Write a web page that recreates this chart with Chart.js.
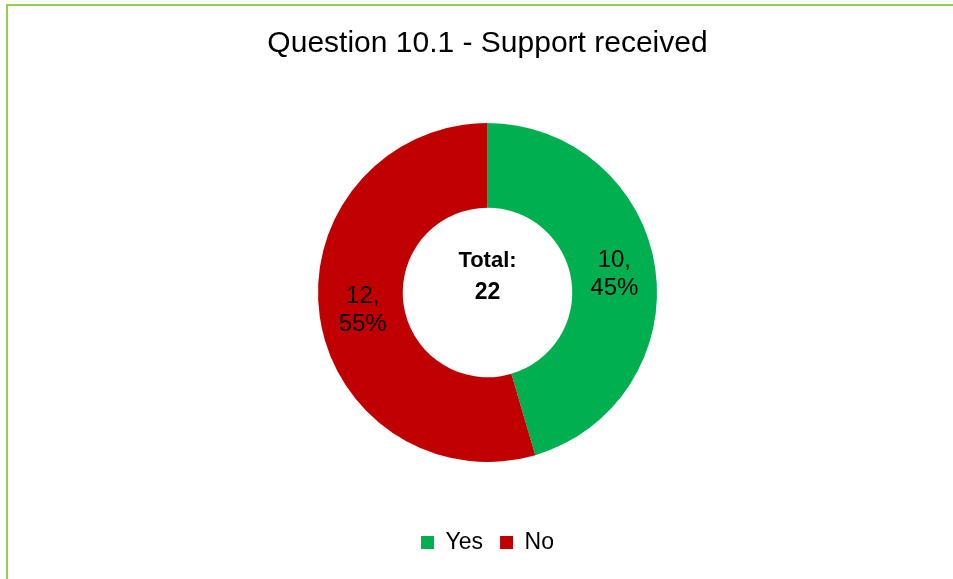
<!DOCTYPE html>
<html>
<head>
<meta charset="utf-8">
<script src="https://cdn.jsdelivr.net/npm/chart.js@4"></script>
<style>
  html, body { margin: 0; padding: 0; background: #fff; overflow: hidden; width: 953px; height: 579px; }
  #frame {
    position: absolute; left: 6px; top: 4px; width: 970px; height: 600px;
    border: 2px solid #92D050; box-sizing: border-box;
  }
  #wrap { position: absolute; left: 8px; top: 0; width: 959px; height: 579px; }
</style>
</head>
<body>
<div id="frame"></div>
<div id="wrap"><canvas id="chart"></canvas></div>
<script>
// Survey answers
const categories = ['Yes', 'No'];
const counts = [10, 12];
const sliceColors = ['#00B050', '#C00000'];
const chartTitle = 'Question 10.1 - Support received';

const fontFamily = '"Liberation Sans", Arial, sans-serif';

// Writes "count, pct%" inside each slice and the total in the hole
const sliceLabels = {
    id: 'sliceLabels',
    afterDatasetsDraw(chart) {
        const ctx = chart.ctx;
        const meta = chart.getDatasetMeta(0);
        const data = chart.data.datasets[0].data;
        const total = data.reduce((a, b) => a + b, 0);
        ctx.save();
        ctx.textAlign = 'center';
        ctx.textBaseline = 'middle';
        ctx.fillStyle = '#000';
        ctx.font = '24px ' + fontFamily;
        meta.data.forEach((arc, i) => {
            const p = arc.tooltipPosition();
            const pct = Math.round(data[i] / total * 100);
            ctx.fillText(data[i] + ',', p.x + 1, p.y - 14);
            ctx.fillText(pct + '%', p.x + 1, p.y + 14);
        });
        const c = meta.data[0];
        ctx.font = 'bold 22px ' + fontFamily;
        ctx.fillText('Total:', c.x, c.y - 32);
        ctx.font = 'bold 23px ' + fontFamily;
        ctx.fillText(String(total), c.x, c.y);
        ctx.restore();
    }
};

new Chart(document.getElementById('chart'), {
    type: 'doughnut',
    data: {
        labels: categories,
        datasets: [{
            data: counts,
            backgroundColor: sliceColors,
            borderWidth: 0
        }]
    },
    options: {
        responsive: true,
        maintainAspectRatio: false,
        animation: false,
        cutout: '50%',
        layout: { padding: { top: 0, bottom: 15 } },
        plugins: {
            title: {
                display: true,
                text: chartTitle,
                color: '#000',
                font: { family: fontFamily, size: 30, weight: 'normal', lineHeight: 1.2 },
                padding: { top: 26, bottom: 61 }
            },
            legend: {
                position: 'bottom',
                // empty legend title used as a spacer above the items
                title: {
                    display: true,
                    text: ' ',
                    font: { size: 1, lineHeight: 1 },
                    padding: { top: 51, bottom: 0 }
                },
                labels: {
                    color: '#000',
                    font: { family: fontFamily, size: 23 },
                    boxWidth: 13,
                    boxHeight: 13,
                    padding: 17
                }
            },
            tooltip: { enabled: false }
        }
    },
    plugins: [sliceLabels]
});
</script>
</body>
</html>
